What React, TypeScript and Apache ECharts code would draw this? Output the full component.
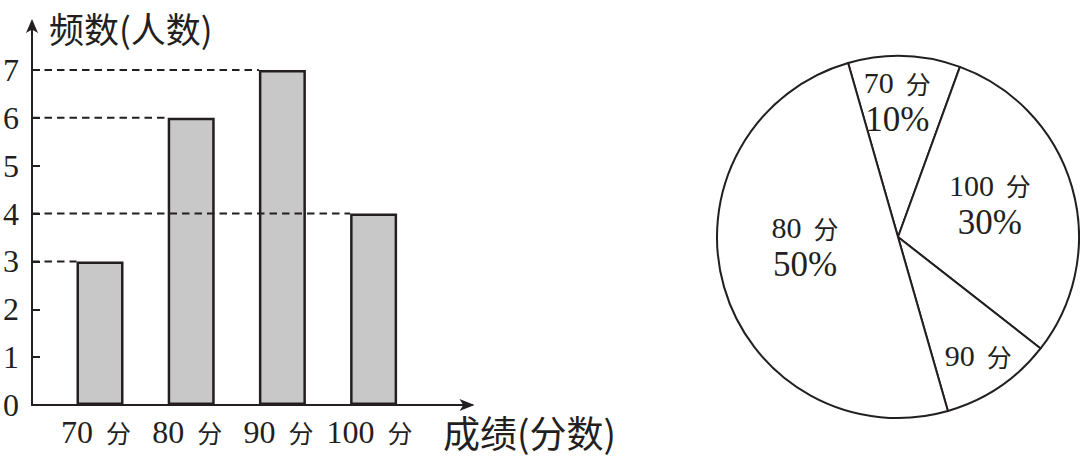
import React, { useEffect, useRef } from "react";
import * as echarts from "echarts";

// ---- data ----
const categories = ["70 分", "80 分", "90 分", "100 分"];
const counts = [3, 6, 7, 4];
const yTickValues = [0, 1, 2, 3, 4, 5, 6, 7];
const yAxisName = "频数(人数)";
const xAxisName = "成绩(分数)";

const pieNames = ["70 分", "100 分", "90 分", "80 分"];
const piePercents = [10, 30, 10, 50];
const piePctVisible = [true, true, false, true];

// ---- layout / style ----
const INK = "#231f20";
const SERIF = "'Liberation Serif', 'DejaVu Serif', serif";
const CJK = "'Noto Sans CJK SC', 'Noto Sans', sans-serif";
const AXIS_X = 32;
const AXIS_Y = 405;
const UNIT = 47.86;
const Y_MAX = 8;
const CAT_W = 91.2;
const FIRST_CENTER = 100;
const BAR_W = 47;
const GRID_LEFT = FIRST_CENTER - CAT_W / 2;
const GRID_TOP = AXIS_Y - UNIT * Y_MAX;
const GRID_H = UNIT * Y_MAX;
const Y_OFFSET = GRID_LEFT - AXIS_X;
const X_LINE_LEN = 440;
const PIE_LABEL_SHIFT: [number, number][] = [
  [-4, -42],
  [2, -7],
  [28, 41],
  [-3, -16],
];

function splitLabel(v: string) {
  const [num, unit] = v.split(" ");
  return `{n|${num}}{f|${unit}}`;
}

const option: any = {
  animation: false,
  backgroundColor: "#ffffff",
  grid: [
    { left: GRID_LEFT, top: GRID_TOP, width: CAT_W * categories.length, height: GRID_H },
    { left: AXIS_X, top: GRID_TOP, width: X_LINE_LEN, height: GRID_H },
  ],
  xAxis: [
    {
      type: "category",
      gridIndex: 0,
      data: categories,
      axisLine: { show: false },
      axisTick: { show: false },
      splitLine: { show: false },
      axisLabel: {
        interval: 0,
        margin: 11,
        padding: [0, 8, 0, 0],
        formatter: splitLabel,
        rich: {
          n: { fontFamily: SERIF, fontSize: 32, color: INK },
          f: { fontFamily: CJK, fontSize: 25, color: INK, padding: [0, 0, 0, 13] },
        },
      },
    },
    {
      type: "value",
      gridIndex: 1,
      min: 0,
      max: 1,
      axisLine: {
        show: true,
        lineStyle: { color: INK, width: 2 },
        symbol: ["none", "arrow"],
        symbolSize: [9, 15],
        symbolOffset: [0, 2.5],
      },
      axisTick: { show: false },
      axisLabel: { show: false },
      splitLine: { show: false },
      name: xAxisName,
      nameLocation: "end",
      nameGap: -29,
      nameTextStyle: {
        fontFamily: CJK,
        fontSize: 37,
        color: INK,
        align: "left",
        verticalAlign: "top",
        padding: [8, 0, 0, 0],
      },
    },
  ],
  yAxis: [
    {
      type: "value",
      gridIndex: 0,
      min: 0,
      max: Y_MAX,
      interval: 1,
      offset: Y_OFFSET,
      axisLine: {
        show: true,
        lineStyle: { color: INK, width: 2 },
        symbol: ["none", "arrow"],
        symbolSize: [9, 14],
        symbolOffset: [0, 3],
      },
      axisTick: {
        show: true,
        inside: true,
        length: 8,
        customValues: yTickValues,
        lineStyle: { color: INK, width: 2 },
      },
      axisLabel: {
        margin: 13,
        customValues: yTickValues,
        fontFamily: SERIF,
        fontSize: 32,
        color: INK,
        formatter: (v: number) => (v <= 7 ? String(v) : ""),
      },
      splitLine: { show: false },
      name: yAxisName,
      nameLocation: "end",
      nameGap: -5,
      nameTextStyle: {
        fontFamily: CJK,
        fontSize: 35,
        lineHeight: 36,
        color: INK,
        align: "left",
        verticalAlign: "middle",
        padding: [0, 0, 0, 17],
      },
    },
    { type: "value", gridIndex: 1, show: false, min: 0, max: 1 },
  ],
  series: [
    {
      type: "bar",
      xAxisIndex: 0,
      yAxisIndex: 0,
      data: counts,
      barWidth: BAR_W,
      itemStyle: { color: "#c8c8c9", borderColor: INK, borderWidth: 2.5 },
      z: 2,
    },
    {
      type: "custom",
      xAxisIndex: 0,
      yAxisIndex: 0,
      data: counts.map((v, i) => [i, v]),
      encode: { x: 0, y: 1 },
      z: 5,
      renderItem: (params: any, api: any) => {
        const pt = api.coord([api.value(0), api.value(1)]);
        const axisX = params.coordSys.x - Y_OFFSET;
        const barLeft = pt[0] - BAR_W / 2;
        return {
          type: "line",
          shape: { x1: axisX, y1: pt[1], x2: barLeft, y2: pt[1] },
          style: { stroke: INK, lineWidth: 2, lineDash: [7.5, 5], fill: null },
        };
      },
    },
    {
      type: "pie",
      center: [898, 237],
      radius: 181,
      startAngle: 106,
      clockwise: true,
      avoidLabelOverlap: false,
      data: pieNames.map((n, i) => ({ name: n, value: piePercents[i] })),
      itemStyle: { color: "#ffffff", borderColor: INK, borderWidth: 2 },
      emphasis: { disabled: true },
      labelLine: { show: false },
      label: {
        show: true,
        position: "inside",
        formatter: (p: any) => {
          const head = splitLabel(p.name);
          return piePctVisible[p.dataIndex] ? `${head}\n{p|${Math.round(p.percent)}%}` : head;
        },
        rich: {
          n: { fontFamily: SERIF, fontSize: 30, color: INK, lineHeight: 36 },
          f: { fontFamily: CJK, fontSize: 25, color: INK, lineHeight: 36, padding: [0, 0, 0, 12] },
          p: { fontFamily: SERIF, fontSize: 35, color: INK, lineHeight: 38 },
        },
      },
      labelLayout: (params: any) => ({
        dx: PIE_LABEL_SHIFT[params.dataIndex][0],
        dy: PIE_LABEL_SHIFT[params.dataIndex][1],
      }),
    },
  ],
};

export default function App() {
  const ref = useRef<HTMLDivElement>(null);
  useEffect(() => {
    if (!ref.current) return;
    const chart = echarts.init(ref.current, null, { renderer: "svg" });
    chart.setOption(option);
    return () => chart.dispose();
  }, []);
  return (
    <div
      ref={ref}
      style={{ position: "absolute", left: 0, top: 0, width: 1080, height: 457, background: "#fff" }}
    />
  );
}
